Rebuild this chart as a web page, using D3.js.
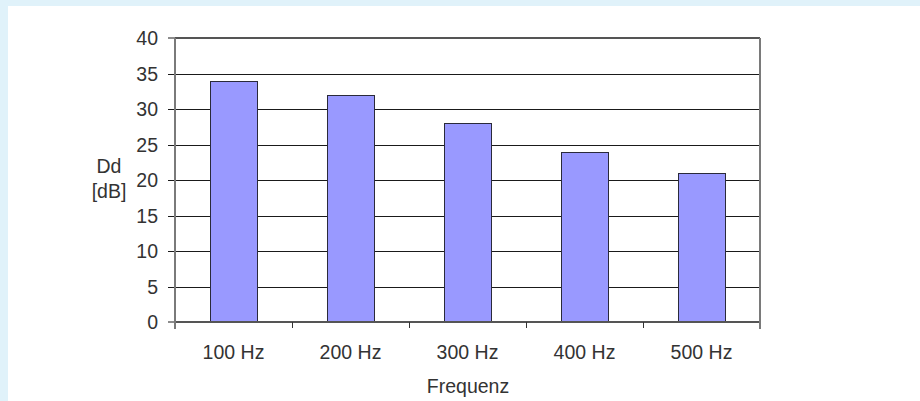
<!DOCTYPE html>
<html>
<head>
<meta charset="utf-8">
<script src="https://cdn.jsdelivr.net/npm/d3@7"></script>
<style>
  html, body { margin: 0; padding: 0; background: #e0f2fa; }
  svg { display: block; }
  text { font-family: "Liberation Sans", Arial, sans-serif; }
</style>
</head>
<body>
<script>
const categories = ["100 Hz", "200 Hz", "300 Hz", "400 Hz", "500 Hz"];
const values = [34, 32, 28, 24, 21];
const yTicks = [0, 5, 10, 15, 20, 25, 30, 35, 40];
const yLabelLines = ["Dd", "[dB]"];
const xTitle = "Frequenz";

(function () {
const W = 920, H = 401;
const svg = d3.select("body").append("svg").attr("width", W).attr("height", H);

svg.append("rect").attr("x", 0).attr("y", 0).attr("width", W).attr("height", H).attr("fill", "#e0f2fa");
svg.append("rect").attr("x", 8).attr("y", 6).attr("width", W - 8).attr("height", H - 6).attr("fill", "#ffffff");

const pLeft = 175, pRight = 760, pTop = 38, pBottom = 322;

const x = d3.scaleBand().domain(categories).range([pLeft, pRight]).paddingInner(0.6).paddingOuter(0.3);
const y = d3.scaleLinear().domain([0, 40]).range([pBottom, pTop]);

const textColor = "#333333";
const fontSize = "19.5px";

// gridlines (extend left as ticks)
svg.append("g").selectAll("line").data(yTicks.filter(t => t > 0 && t < 40)).join("line")
  .attr("x1", pLeft - 7).attr("x2", pRight)
  .attr("y1", d => Math.round(y(d)) + 0.5).attr("y2", d => Math.round(y(d)) + 0.5)
  .attr("stroke", "#1a1a1a").attr("stroke-width", 1);

// 0 and 40 tick stubs
svg.append("g").selectAll("line").data([0, 40]).join("line")
  .attr("x1", pLeft - 7).attr("x2", pLeft)
  .attr("y1", d => Math.round(y(d))).attr("y2", d => Math.round(y(d)))
  .attr("stroke", "#1a1a1a").attr("stroke-width", 1);

// bars
svg.append("g").selectAll("rect").data(categories).join("rect")
  .attr("x", d => Math.round(x(d)) + 0.5)
  .attr("y", (d, i) => Math.round(y(values[i])) + 0.5)
  .attr("width", Math.round(x.bandwidth()))
  .attr("height", (d, i) => Math.round(y(0)) - Math.round(y(values[i])))
  .attr("fill", "#9999ff")
  .attr("stroke", "#2a2a3a").attr("stroke-width", 1);

// plot border (gray)
const border = "#7a7a7a";
svg.append("line").attr("x1", pLeft).attr("x2", pRight).attr("y1", y(40)).attr("y2", y(40))
  .attr("stroke", "#555").attr("stroke-width", 2);
svg.append("line").attr("x1", pLeft).attr("x2", pRight).attr("y1", y(0)).attr("y2", y(0))
  .attr("stroke", "#555").attr("stroke-width", 2);
svg.append("line").attr("x1", pLeft).attr("x2", pLeft).attr("y1", y(40)).attr("y2", y(0) + 7)
  .attr("stroke", border).attr("stroke-width", 2);
svg.append("line").attr("x1", pRight).attr("x2", pRight).attr("y1", y(40)).attr("y2", y(0) + 7)
  .attr("stroke", border).attr("stroke-width", 2);

// x category boundary ticks
const bounds = categories.slice(0, -1).map(c => x(c) + x.bandwidth() / 2 + x.step() / 2);
svg.append("g").selectAll("line").data(bounds).join("line")
  .attr("x1", d => Math.round(d) + 0.5).attr("x2", d => Math.round(d) + 0.5)
  .attr("y1", y(0)).attr("y2", y(0) + 6)
  .attr("stroke", "#333").attr("stroke-width", 1);

// y tick labels
svg.append("g").selectAll("text").data(yTicks).join("text")
  .attr("x", 158).attr("y", d => y(d))
  .attr("dy", "0.36em")
  .attr("text-anchor", "end")
  .attr("font-size", fontSize).attr("fill", textColor)
  .text(d => d);

// x category labels
svg.append("g").selectAll("text").data(categories).join("text")
  .attr("x", d => x(d) + x.bandwidth() / 2)
  .attr("y", 359)
  .attr("text-anchor", "middle")
  .attr("font-size", fontSize).attr("fill", textColor)
  .text(d => d);

// x title
svg.append("text").attr("x", 468).attr("y", 393)
  .attr("text-anchor", "middle").attr("font-size", fontSize).attr("fill", textColor)
  .text(xTitle);

// y title
svg.append("g").selectAll("text").data(yLabelLines).join("text")
  .attr("x", 109).attr("y", (d, i) => 173 + i * 25)
  .attr("text-anchor", "middle").attr("font-size", fontSize).attr("fill", textColor)
  .text(d => d);
})();
</script>
</body>
</html>
